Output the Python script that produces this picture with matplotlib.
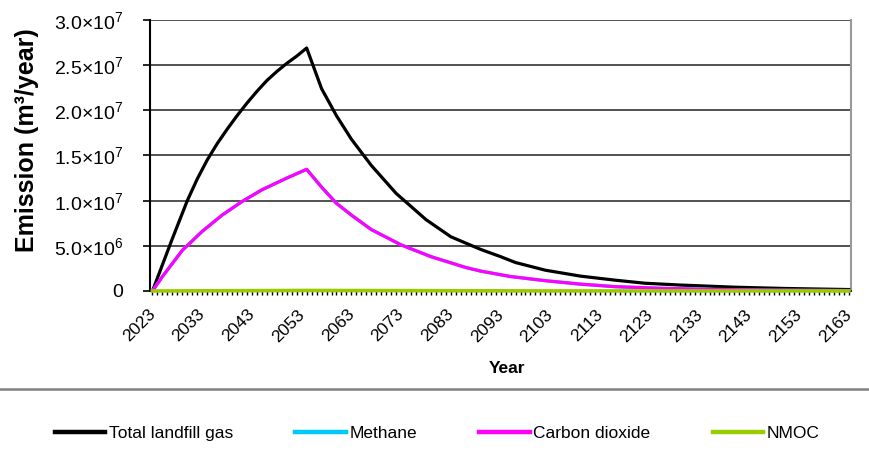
import matplotlib.pyplot as plt
from matplotlib.lines import Line2D
from matplotlib.ticker import MultipleLocator
from matplotlib.transforms import ScaledTranslation

plt.rcParams['font.family'] = ['Liberation Sans', 'DejaVu Sans']
plt.rcParams['mathtext.fontset'] = 'custom'
plt.rcParams['mathtext.rm'] = 'Liberation Sans'
plt.rcParams['mathtext.it'] = 'Liberation Sans:italic'
plt.rcParams['mathtext.bf'] = 'Liberation Sans:bold'

# landfill gas generation, m3/year
total_years = [2023, 2025, 2027, 2030, 2032, 2034, 2036, 2038, 2040, 2042, 2044,
               2046, 2048, 2050, 2052, 2054,
               2057, 2060, 2063, 2067, 2072, 2078, 2083, 2089, 2093, 2096,
               2102, 2109, 2116, 2122, 2129, 2140, 2150, 2163]
total_gas = [0, 2.9e6, 5.8e6, 1.0e7, 1.24e7, 1.45e7, 1.63e7, 1.79e7, 1.94e7, 2.08e7, 2.21e7,
             2.33e7, 2.43e7, 2.52e7, 2.60e7, 2.69e7,
             2.24e7, 1.94e7, 1.68e7, 1.39e7, 1.08e7, 7.9e6, 6.0e6, 4.6e6, 3.8e6, 3.15e6,
             2.3e6, 1.65e6, 1.2e6, 8.6e5, 6.6e5, 4.2e5, 2.8e5, 1.6e5]

co2_years = [2023, 2025, 2029, 2033, 2037, 2041, 2045, 2050, 2054,
             2057, 2060, 2063, 2067, 2073, 2079, 2086, 2089, 2095,
             2102, 2109, 2116, 2125, 2135, 2148, 2163]
carbon_dioxide = [0, 1.6e6, 4.5e6, 6.6e6, 8.4e6, 9.9e6, 1.12e7, 1.25e7, 1.347e7,
                  1.15e7, 9.7e6, 8.4e6, 6.8e6, 5.1e6, 3.8e6, 2.6e6, 2.2e6, 1.6e6,
                  1.14e6, 7.6e5, 4.8e5, 3.0e5, 1.8e5, 9e4, 5e4]
# methane runs on the same volumes as CO2
methane = list(carbon_dioxide)

nmoc_years = [2023, 2054, 2100, 2163]
nmoc = [0, 6e4, 1e4, 5e2]

xtick_years = list(range(2023, 2164, 10))
ytick_values = [0, 5e6, 1e7, 1.5e7, 2e7, 2.5e7, 3e7]
ytick_labels = ['0', '5.0×10$^{6}$', '1.0×10$^{7}$', '1.5×10$^{7}$',
                '2.0×10$^{7}$', '2.5×10$^{7}$', '3.0×10$^{7}$']

fig = plt.figure(figsize=(8.69, 4.73), dpi=100)
ax = fig.add_axes([0.1726, 0.3848, 0.8064, 0.5729])

ax.plot(total_years, total_gas, color='black', lw=2.3, label='Total landfill gas', zorder=3)
ax.plot(co2_years, methane, color='#00c8ff', lw=2.3, label='Methane', zorder=3)
ax.plot(co2_years, carbon_dioxide, color='#ff00ff', lw=2.3, label='Carbon dioxide', zorder=4)
ax.plot(nmoc_years, nmoc, color='#99cc00', lw=2.6, label='NMOC', zorder=5, clip_on=False)

ax.set_xlim(2022.5, 2163.4)
ax.set_ylim(0, 3e7)
ax.set_xticks(xtick_years)
ax.set_xticklabels([str(y) for y in xtick_years], rotation=45, ha='right',
                   rotation_mode='anchor', fontsize=12.5)
ax.xaxis.set_minor_locator(MultipleLocator(1))
ax.tick_params(axis='x', which='both', direction='out', length=3, width=1, pad=4)
ax.set_yticks(ytick_values)
ax.set_yticklabels(ytick_labels, fontsize=14)
ax.tick_params(axis='y', direction='out', length=5, width=1.2, pad=14)

# nudge the slanted year labels down and to the left (after tick_params, which resets transforms)
shift = ScaledTranslation(-0.05, -0.06, fig.dpi_scale_trans)
for tick in ax.xaxis.get_major_ticks():
    tick.label1.set_transform(tick.label1.get_transform() + shift)

ax.grid(axis='y', color='#333333', lw=1.2)
ax.set_axisbelow(True)
ax.spines['top'].set_visible(False)
ax.spines['left'].set_linewidth(1.5)
ax.spines['bottom'].set_linewidth(1.2)
ax.spines['right'].set_color('#999999')
ax.spines['right'].set_linewidth(1.5)

ax.set_ylabel('Emission (m³/year)', fontsize=18, fontweight='bold')
ax.yaxis.set_label_coords(-0.159, 0.557)
ax.set_xlabel('Year', fontsize=12.5, fontweight='bold')
ax.xaxis.set_label_coords(0.509, -0.258)

# divider between plot and legend
fig.add_artist(Line2D([0, 1], [1 - 389 / 473] * 2, transform=fig.transFigure,
                      color='#808080', lw=1.8))

leg = fig.legend(loc='center', bbox_to_anchor=(0.503, 1 - 433 / 473), ncol=4, frameon=False,
                 fontsize=12.5, handlelength=2.9, handletextpad=0.2, columnspacing=3.6)
for h in leg.get_lines():
    h.set_linewidth(3.2)

fig.savefig('out.png', dpi=100)
